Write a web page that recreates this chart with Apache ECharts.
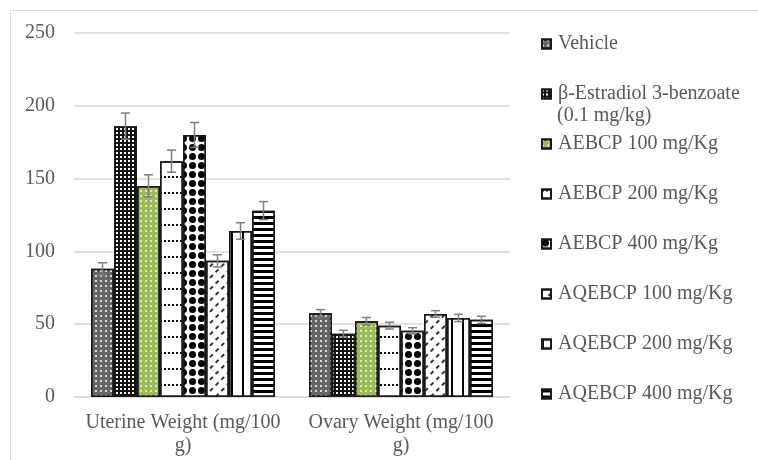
<!DOCTYPE html>
<html>
<head>
<meta charset="utf-8">
<script src="https://cdn.jsdelivr.net/npm/echarts@6/dist/echarts.min.js"></script>
<style>
  html, body { margin: 0; padding: 0; background: #fff; }
  #chart { width: 758px; height: 460px; }
</style>
</head>
<body>
<div id="chart"></div>
<script>
/* ========== 子宫 / 卵巢重量柱状图 ========== */

const categories = ["Uterine Weight (mg/100 g)", "Ovary Weight (mg/100 g)"];
const groupNames = [
    "Vehicle",
    "β-Estradiol 3-benzoate (0.1 mg/kg)",
    "AEBCP 100 mg/Kg",
    "AEBCP 200 mg/Kg",
    "AEBCP 400 mg/Kg",
    "AQEBCP 100 mg/Kg",
    "AQEBCP 200 mg/Kg",
    "AQEBCP 400 mg/Kg",
];
// 每组: [子宫, 卵巢]
const means = [
    [88, 57.5],
    [186, 43.5],
    [145, 52],
    [162, 49],
    [180, 45.5],
    [93.5, 57],
    [114, 54.3],
    [128, 53],
];
const errors = [
    [4.2, 2.5],
    [9, 2.3],
    [7.6, 2.6],
    [7.6, 2.3],
    [8.5, 2.1],
    [4.2, 2.3],
    [5.7, 2.5],
    [6.2, 2.5],
];
const yTicks = [0, 50, 100, 150, 200, 250];

const FONT = "'Liberation Serif', 'Times New Roman', serif";
const TEXT = "#595959";
const GAP = 0.156;

// 各组的图案
const looks = [
    { color: "#666666", decal: { symbol: "circle", symbolSize: 1, color: "#ffffff", dashArrayX: [2, 3], dashArrayY: [2, 3] } },
    { color: "#141414", decal: { symbol: "rect", symbolSize: 1, color: "#ffffff", dashArrayX: [2, 2], dashArrayY: [2, 2] } },
    { color: "#9bbb59", decal: { symbol: "rect", symbolSize: 1, color: "#dbe9c4", dashArrayX: [2, 3], dashArrayY: [2, 3] } },
    { color: "#ffffff", decal: { symbol: "rect", symbolSize: 1, color: "#000000", dashArrayX: [2, 2], dashArrayY: [2, 14] } },
    { color: "#ffffff", decal: { symbol: "circle", symbolSize: 1, color: "#000000", dashArrayX: [7, 1.5], dashArrayY: [7, 1.5] } },
    { color: "#ffffff", decal: { symbol: "rect", symbolSize: 1, color: "#333333", rotation: -Math.PI / 4, dashArrayX: [4, 4], dashArrayY: [1.5, 6] } },
    { color: "#ffffff", decal: { symbol: "rect", symbolSize: 1, color: "#000000", dashArrayX: [[1.5, 9]], dashArrayY: [10, 0] } },
    { color: "#ffffff", decal: { symbol: "rect", symbolSize: 1, color: "#000000", dashArrayX: [10, 0], dashArrayY: [3, 3] } },
];

const barSeries = groupNames.map((name, i) => ({
    name: name,
    type: "bar",
    barGap: "0%",
    barCategoryGap: (GAP * 100) + "%",
    data: means[i],
    itemStyle: {
        color: looks[i].color,
        decal: looks[i].decal,
        borderColor: "#1a1a1a",
        borderWidth: 1.5,
    },
}));

// 误差线数据: [类别, 均值, 误差, 组序号]
const errData = [];
groupNames.forEach((_, s) => {
    categories.forEach((_, c) => {
        errData.push([c, means[s][c], errors[s][c], s]);
    });
});

const errSeries = {
    type: "custom",
    name: "err",
    z: 10,
    data: errData,
    renderItem: (params, api) => {
        const c = api.value(0), v = api.value(1), e = api.value(2), s = api.value(3);
        const band = api.size([1, 0])[0];
        const total = band * (1 - GAP);
        const barW = total / groupNames.length;
        const x = api.coord([c, v])[0] - total / 2 + barW * (s + 0.5);
        const yTop = api.coord([c, v + e])[1];
        const yBot = api.coord([c, v - e])[1];
        const hw = 4.5;
        const st = { stroke: "#7f7f7f", lineWidth: 1.5 };
        return {
            type: "group",
            children: [
                { type: "line", shape: { x1: x, y1: yTop, x2: x, y2: yBot }, style: st },
                { type: "line", shape: { x1: x - hw, y1: yTop, x2: x + hw, y2: yTop }, style: st },
                { type: "line", shape: { x1: x - hw, y1: yBot, x2: x + hw, y2: yBot }, style: st },
            ],
        };
    },
};

const chart = echarts.init(document.getElementById("chart"));
chart.setOption({
    animation: false,
    textStyle: { fontFamily: FONT },
    grid: { left: 74, right: 248, top: 33, bottom: 63 },
    legend: {
        orient: "vertical",
        left: 541,
        top: 34,
        padding: 0,
        itemWidth: 9,
        itemHeight: 9,
        itemGap: 30,
        icon: "rect",
        data: groupNames,
        formatter: (name) => name.replace(" (0.1 mg/kg)", ""),
        textStyle: { color: TEXT, fontSize: 20, fontFamily: FONT, lineHeight: 20, padding: [0, 0, 0, 2] },
    },
    xAxis: {
        type: "category",
        data: categories,
        axisLine: { lineStyle: { color: "#d9d9d9", width: 1.5 } },
        axisTick: { show: false },
        axisLabel: {
            color: TEXT, fontSize: 20, fontFamily: FONT, lineHeight: 23, margin: 14,
            interval: 0,
            formatter: (v) => v.replace(" g)", "\ng)"),
        },
    },
    yAxis: {
        type: "value",
        min: yTicks[0],
        max: yTicks[yTicks.length - 1],
        interval: yTicks[1] - yTicks[0],
        axisLine: { show: false },
        axisTick: { show: false },
        splitLine: { lineStyle: { color: "#d9d9d9", width: 1.5 } },
        axisLabel: { color: TEXT, fontSize: 20, fontFamily: FONT, margin: 19 },
    },
    graphic: [
        {
            type: "rect",
            shape: { x: 10.5, y: 10.5, width: 760, height: 470 },
            style: { fill: "none", stroke: "#d9d9d9", lineWidth: 1 },
            silent: true,
        },
        {
            type: "text",
            left: 557,
            top: 106,
            style: { text: "(0.1 mg/kg)", fill: TEXT, fontSize: 20, fontFamily: FONT },
        },
    ],
    series: [...barSeries, errSeries],
});
</script>
</body>
</html>
